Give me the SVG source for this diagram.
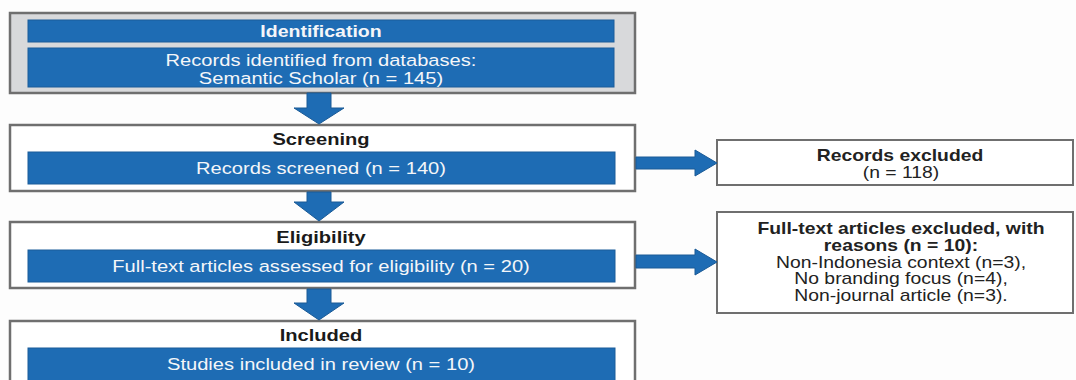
<svg xmlns="http://www.w3.org/2000/svg" width="1076" height="380" viewBox="0 0 1076 380">
<style>
.outer{fill:#ffffff;stroke:#6f6f6f;stroke-width:2.5}
.gray{fill:#d8d9db}
.bar{fill:#1e6cb4;stroke:#1a5c9a;stroke-width:1}
.arrow{fill:#1e6cb4;stroke:#1a5a96;stroke-width:1;stroke-linejoin:miter}
.exbox{fill:#ffffff;stroke:#6f6f6f;stroke-width:2}
text{font-family:"Liberation Sans",Arial,sans-serif;text-anchor:middle}
.wt{fill:#f4f6f9;font-size:16.5px}
.wtb{fill:#f4f6f9;font-size:16px;font-weight:bold}
.bt{fill:#1a1a1a;font-size:16.5px;font-weight:bold}
.rt{fill:#222222;font-size:16px}
.rtb{fill:#222222;font-size:16px;font-weight:bold}
</style>
<rect x="0" y="0" width="1076" height="380" fill="#fdfdfd"/>
<g id="identification">
<rect class="outer gray" x="10" y="13" width="625" height="80"/>
<rect class="bar" x="28" y="20" width="586" height="22"/>
<rect class="bar" x="28" y="48" width="586" height="39"/>
<text class="wtb" transform="translate(321,37) scale(1.22,1)">Identification</text>
<text class="wt" transform="translate(321,65.5) scale(1.22,1)">Records identified from databases:</text>
<text class="wt" transform="translate(321,83.5) scale(1.22,1)">Semantic Scholar (n = 145)</text>
</g>
<g id="screening">
<rect class="outer" x="10" y="125" width="625" height="66"/>
<text class="bt" transform="translate(321,144.5) scale(1.22,1)">Screening</text>
<rect class="bar" x="28" y="152" width="587" height="32"/>
<text class="wt" transform="translate(321,173.5) scale(1.22,1)">Records screened (n = 140)</text>
</g>
<g id="eligibility">
<rect class="outer" x="10" y="222" width="625" height="66"/>
<text class="bt" transform="translate(321,242.5) scale(1.22,1)">Eligibility</text>
<rect class="bar" x="28" y="250" width="587" height="32"/>
<text class="wt" transform="translate(321,271.5) scale(1.22,1)">Full-text articles assessed for eligibility (n = 20)</text>
</g>
<g id="included">
<rect class="outer" x="10" y="321" width="625" height="72"/>
<text class="bt" transform="translate(321,340.5) scale(1.22,1)">Included</text>
<rect class="bar" x="28" y="348" width="587" height="40"/>
<text class="wt" transform="translate(321,370) scale(1.22,1)">Studies included in review (n = 10)</text>
</g>
<g id="records-excluded">
<rect class="exbox" x="717" y="140" width="356" height="45"/>
<text class="rtb" transform="translate(900,160.5) scale(1.21,1)">Records excluded</text>
<text class="rt" transform="translate(901,177.5) scale(1.21,1)">(n = 118)</text>
</g>
<g id="fulltext-excluded">
<rect class="exbox" x="717" y="212" width="356" height="101"/>
<text class="rtb" transform="translate(901,233.5) scale(1.21,1)">Full-text articles excluded, with</text>
<text class="rtb" transform="translate(901,250.5) scale(1.21,1)">reasons (n = 10):</text>
<text class="rt" transform="translate(901,267.5) scale(1.21,1)">Non-Indonesia context (n=3),</text>
<text class="rt" transform="translate(901,284) scale(1.21,1)">No branding focus (n=4),</text>
<text class="rt" transform="translate(901,300.5) scale(1.21,1)">Non-journal article (n=3).</text>
</g>
<g id="connectors">
<polygon class="arrow" points="307,93 331,93 331,108 344,108 319,124 294,108 307,108"/>
<polygon class="arrow" points="307,192 331,192 331,202 344,202 319,221 294,202 307,202"/>
<polygon class="arrow" points="307,289 331,289 331,303 344,303 319,320 294,303 307,303"/>
<polygon class="arrow" points="636,157 695,157 695,150 717,163 695,176 695,169 636,169"/>
<polygon class="arrow" points="636,255 695,255 695,249 717,262 695,275 695,268 636,268"/>
</g>
</svg>
